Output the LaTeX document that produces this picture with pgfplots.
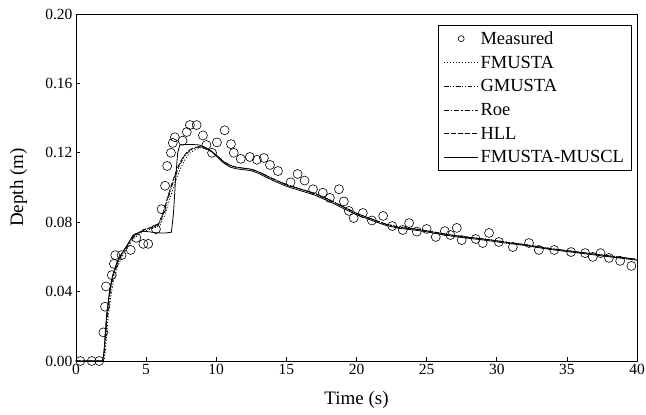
\documentclass[border=0pt]{standalone}
\usepackage{fontspec}
\setmainfont{Liberation Serif}
\usepackage{pgfplots}
\pgfplotsset{compat=1.18}
\begin{document}
\begin{tikzpicture}
\begin{axis}[
    scale only axis,
    width=561pt, height=347pt,
    xmin=0, xmax=40, ymin=0, ymax=0.2,
    xtick={0,5,...,40},
    ytick={0,0.04,...,0.2},
    xtick pos=left, ytick pos=left,
    tick align=inside,
    major tick length=4pt,
    axis line style={line width=0.9pt},
    every tick/.style={black, line width=0.7pt},
    /pgf/number format/assume math mode=true,
    yticklabel style={/pgf/number format/fixed, /pgf/number format/fixed zerofill, /pgf/number format/precision=2},
    scaled y ticks=false,
    tick label style={font=\fontsize{15.5}{18}\selectfont},
    label style={font=\fontsize{19}{22}\selectfont},
    xlabel={Time (s)}, ylabel={Depth (m)},
    xlabel style={at={(axis description cs:0.5,-0.112)}, anchor=center},
    ylabel style={at={(axis description cs:-0.1025,0.5)}, anchor=center},
    legend style={at={(0.99,0.968)}, anchor=north east, draw=black, line width=0.8pt,
        font=\fontsize{18.5}{21.5}\selectfont, row sep=6pt, inner xsep=5pt, inner ysep=4pt},
    legend cell align=left,
    legend image code/.code={\draw[#1, line width=0.7pt] (0pt,0pt) -- (34pt,0pt);},
]
% measured
\addplot[only marks, mark=o, mark size=4.5pt, line width=0.6pt, black,
    legend image code/.code={\draw[black, line width=0.6pt] (17pt,0pt) circle (3pt);}] coordinates {
(0.31,0) (1.12,0) (1.66,0) (1.95,0.0165) (2.07,0.0313) (2.14,0.043) (2.55,0.0495)
(2.7,0.056) (2.8,0.061) (3.25,0.061) (3.9,0.064) (4.3,0.071) (4.8,0.0675) (5.15,0.0675)
(5.7,0.076) (6.1,0.0875) (6.35,0.101) (6.5,0.1124) (6.77,0.12) (6.9,0.1257) (7.05,0.129)
(7.6,0.127) (7.9,0.132) (8.12,0.136) (8.6,0.136) (9.05,0.130) (9.3,0.1245) (9.7,0.12)
(10.05,0.126) (10.6,0.133) (11.05,0.125) (11.25,0.12) (11.75,0.1165) (12.4,0.1176)
(12.9,0.116) (13.4,0.117) (13.83,0.113) (14.4,0.1095) (15.3,0.103) (15.8,0.1078)
(16.3,0.104) (16.9,0.099) (17.6,0.097) (18.1,0.094) (18.75,0.099) (19.1,0.092)
(19.45,0.0865) (19.8,0.0824) (20.45,0.0853) (21.1,0.081) (21.9,0.0836) (22.55,0.0778)
(23.3,0.0755) (23.75,0.0795) (24.3,0.0746) (25.0,0.0761) (25.65,0.0715) (26.3,0.0749)
(26.7,0.0726) (27.15,0.0767) (27.5,0.0697) (28.5,0.0703) (29.0,0.068) (29.45,0.0738)
(30.15,0.0686) (31.15,0.0657) (32.3,0.068) (33.0,0.064) (34.1,0.064) (35.3,0.0628)
(36.3,0.0622) (36.85,0.060) (37.4,0.0622) (38.0,0.0594) (38.8,0.0577) (39.6,0.0548)
};
% FMUSTA
\addplot[black, line width=0.7pt, dash pattern=on 1.2pt off 1.8pt] coordinates {
(0,0) (2.0,0) (2.1,0.006) (2.2,0.016) (2.3,0.026) (2.5,0.038) (2.7,0.047) (3.0,0.055)
(3.3,0.0605) (3.7,0.0655) (4.1,0.0705) (4.5,0.073) (4.9,0.075) (5.3,0.076) (5.7,0.077)
(6.0,0.0785) (6.3,0.0835) (6.6,0.091) (6.9,0.099) (7.2,0.106) (7.5,0.112) (7.8,0.1165)
(8.1,0.1198) (8.5,0.1218) (8.9,0.1228) (9.3,0.1225) (9.7,0.1208) (10.1,0.1182)
(10.5,0.1152) (11.0,0.1128) (11.5,0.1117) (12.0,0.1112) (12.5,0.1106) (13.0,0.1092)
(13.5,0.1073) (14.0,0.1053) (15.0,0.1018) (16.0,0.0993) (17.0,0.0968) (18.0,0.0933)
(19.0,0.0893) (20.0,0.0853) (21.0,0.0822) (22.0,0.0793) (23.0,0.0773) (24.0,0.0764)
(25.0,0.0752) (26.0,0.0737) (27.0,0.0724) (28.0,0.0714) (29.0,0.0705) (30.0,0.0694)
(31.0,0.0682) (32.0,0.0672) (33.0,0.0659) (34.0,0.0647) (35.0,0.0637) (36.0,0.0627)
(37.0,0.0617) (38.0,0.0607) (39.0,0.0597) (40.0,0.0587)
};
% GMUSTA
\addplot[black, line width=0.7pt, dash pattern=on 4.5pt off 1.8pt on 1pt off 1.8pt on 1pt off 1.8pt] coordinates {
(0,0) (1.95,0) (2.05,0.005) (2.15,0.015) (2.25,0.026) (2.45,0.039) (2.65,0.048) (2.95,0.0558)
(3.25,0.061) (3.65,0.066) (4.05,0.071) (4.45,0.0735) (4.85,0.0755) (5.25,0.0765) (5.65,0.0775)
(5.95,0.079) (6.25,0.085) (6.55,0.093) (6.85,0.101) (7.15,0.108) (7.45,0.1138) (7.75,0.118)
(8.05,0.1208) (8.45,0.1226) (8.85,0.1233) (9.25,0.1228) (9.65,0.1209) (10.05,0.1183)
(10.5,0.1151) (11.0,0.1126) (11.5,0.1116) (12.0,0.1111) (12.5,0.1105) (13.0,0.109)
(13.5,0.1071) (14.0,0.1051) (15.0,0.1016) (16.0,0.0991) (17.0,0.0966) (18.0,0.0931)
(19.0,0.0891) (20.0,0.0851) (21.0,0.0821) (22.0,0.0791) (23.0,0.0771) (24.0,0.0763)
(25.0,0.0751) (26.0,0.0736) (27.0,0.0723) (28.0,0.0713) (29.0,0.0704) (30.0,0.0693)
(31.0,0.0681) (32.0,0.0671) (33.0,0.0658) (34.0,0.0646) (35.0,0.0636) (36.0,0.0626)
(37.0,0.0616) (38.0,0.0606) (39.0,0.0596) (40.0,0.0586)
};
% Roe
\addplot[black, line width=0.7pt, dash pattern=on 5pt off 2pt on 1.2pt off 2pt] coordinates {
(0,0) (1.9,0) (2.0,0.004) (2.1,0.015) (2.2,0.026) (2.4,0.039) (2.6,0.048) (2.9,0.056)
(3.2,0.061) (3.6,0.066) (4.0,0.071) (4.4,0.0735) (4.8,0.0755) (5.2,0.0765) (5.6,0.0775)
(5.9,0.079) (6.2,0.085) (6.5,0.093) (6.8,0.101) (7.1,0.108) (7.4,0.114) (7.7,0.118)
(8.0,0.121) (8.4,0.1228) (8.8,0.1235) (9.2,0.123) (9.6,0.121) (10.0,0.1185)
(10.5,0.115) (11.0,0.1125) (11.5,0.1115) (12.0,0.111) (12.5,0.1105) (13.0,0.109)
(13.5,0.107) (14.0,0.105) (15.0,0.1015) (16.0,0.099) (17.0,0.0965) (18.0,0.093)
(19.0,0.089) (20.0,0.085) (21.0,0.082) (22.0,0.079) (23.0,0.077) (24.0,0.0762)
(25.0,0.075) (26.0,0.0735) (27.0,0.0722) (28.0,0.0712) (29.0,0.0703) (30.0,0.0692)
(31.0,0.068) (32.0,0.067) (33.0,0.0657) (34.0,0.0645) (35.0,0.0635) (36.0,0.0625)
(37.0,0.0615) (38.0,0.0605) (39.0,0.0595) (40.0,0.0585)
};
% HLL
\addplot[black, line width=0.7pt, dash pattern=on 4.5pt off 2.5pt] coordinates {
(0,0) (1.9,0) (2.0,0.005) (2.1,0.016) (2.2,0.027) (2.4,0.0395) (2.6,0.0485) (2.9,0.0562)
(3.2,0.0612) (3.6,0.0662) (4.0,0.0712) (4.4,0.0737) (4.8,0.0757) (5.2,0.0767) (5.6,0.0777)
(5.9,0.0793) (6.2,0.0855) (6.5,0.0935) (6.8,0.1015) (7.1,0.1085) (7.4,0.1143) (7.7,0.1183)
(8.0,0.1212) (8.4,0.1229) (8.8,0.1236) (9.2,0.1231) (9.6,0.1211) (10.0,0.1186)
(10.5,0.1151) (11.0,0.1126) (11.5,0.1116) (12.0,0.1111) (12.5,0.1106) (13.0,0.1091)
(13.5,0.1071) (14.0,0.1051) (15.0,0.1016) (16.0,0.0991) (17.0,0.0966) (18.0,0.0931)
(19.0,0.0891) (20.0,0.0851) (21.0,0.0821) (22.0,0.0791) (23.0,0.0771) (24.0,0.0763)
(25.0,0.0751) (26.0,0.0736) (27.0,0.0723) (28.0,0.0713) (29.0,0.0704) (30.0,0.0693)
(31.0,0.0681) (32.0,0.0671) (33.0,0.0658) (34.0,0.0646) (35.0,0.0636) (36.0,0.0626)
(37.0,0.0616) (38.0,0.0606) (39.0,0.0596) (40.0,0.0586)
};
% FMUSTA-MUSCL
\addplot[black, line width=0.8pt] coordinates {
(0,0) (1.9,0) (2.0,0.006) (2.1,0.018) (2.2,0.028) (2.4,0.041) (2.6,0.049) (2.9,0.0565)
(3.2,0.061) (3.6,0.066) (4.0,0.0715) (4.4,0.0738) (4.8,0.0748) (5.2,0.0745) (5.6,0.074)
(6.0,0.0738) (6.4,0.0738) (6.8,0.0742) (6.95,0.085) (7.1,0.105) (7.25,0.12) (7.4,0.1245)
(7.8,0.1248) (8.3,0.1248) (8.8,0.1245) (9.2,0.1232) (9.6,0.1212) (10.0,0.1182)
(10.5,0.1143) (11.0,0.1117) (11.5,0.1107) (12.0,0.1102) (12.5,0.1097) (13.0,0.1082)
(13.5,0.1062) (14.0,0.1042) (15.0,0.1007) (16.0,0.0982) (17.0,0.0957) (18.0,0.0922)
(19.0,0.0882) (20.0,0.0843) (21.0,0.0813) (22.0,0.0784) (23.0,0.0765) (24.0,0.0756)
(25.0,0.0745) (26.0,0.073) (27.0,0.0717) (28.0,0.0707) (29.0,0.0698) (30.0,0.0687)
(31.0,0.0676) (32.0,0.0666) (33.0,0.0653) (34.0,0.0641) (35.0,0.0631) (36.0,0.0621)
(37.0,0.0611) (38.0,0.0601) (39.0,0.0591) (40.0,0.0581)
};
\legend{Measured, FMUSTA, GMUSTA, Roe, HLL, FMUSTA-MUSCL}
\end{axis}
% page frame with the reference's margins round the axis
\pgfresetboundingbox
\path[use as bounding box] ([xshift=-76pt,yshift=-54pt]current axis.south west)
    rectangle ([xshift=9pt,yshift=14pt]current axis.north east);
\end{tikzpicture}
\end{document}
